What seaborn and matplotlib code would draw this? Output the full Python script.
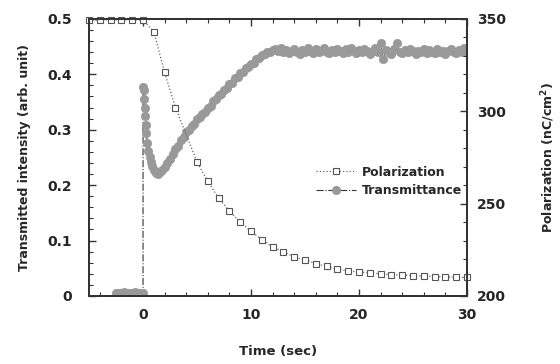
import numpy as np
import pandas as pd
import seaborn as sns
import matplotlib.pyplot as plt
from matplotlib.ticker import MultipleLocator

sns.set_style("white")
plt.rcParams['font.family'] = ['DejaVu Sans']
plt.rcParams['font.weight'] = 'bold'

# Polarization (nC/cm^2) vs time (s)
pol_time = [-5, -4, -3, -2, -1, 0, 1, 2, 3, 5, 6, 7, 8, 9, 10, 11, 12, 13, 14, 15,
            16, 17, 18, 19, 20, 21, 22, 23, 24, 25, 26, 27, 28, 29, 30]
pol_vals = [349.5, 349.5, 349.5, 349.5, 349.5, 349.5, 343, 321, 302, 272.5, 262, 253, 246,
            240, 235, 230.5, 226.5, 224, 221, 219.5, 217.5, 216, 214.5, 213.5, 213,
            212.5, 212, 211.5, 211.3, 211, 210.8, 210.5, 210.3, 210.1, 210]

# Transmitted intensity vs time (s)
tr_time_pre = [-2.5, -2.25, -2.0, -1.75, -1.5, -1.25, -1.0, -0.75, -0.5, -0.25, 0.0, 0.0]
tr_vals_pre = [0.005, 0.006, 0.005, 0.007, 0.006, 0.005, 0.006, 0.007, 0.006, 0.005, 0.006, 0.377]

tr_time_drop = [0.05, 0.1, 0.15, 0.2, 0.25, 0.3, 0.4, 0.5, 0.6, 0.7, 0.8, 1.0, 1.2, 1.4,
                1.6, 1.8, 2.0, 2.25, 2.5, 2.75]
tr_vals_drop = [0.372, 0.356, 0.340, 0.324, 0.308, 0.294, 0.276, 0.262, 0.251, 0.242,
                0.235, 0.227, 0.222, 0.220, 0.223, 0.227, 0.233, 0.240, 0.248, 0.256]

tr_time_rise = [3.0, 3.25, 3.5, 3.75, 4.0, 4.25, 4.5, 4.75, 5.0, 5.25, 5.5, 5.75, 6.0,
                6.25, 6.5, 6.75, 7.0, 7.25, 7.5, 7.75, 8.0, 8.25, 8.5, 8.75, 9.0, 9.25,
                9.5, 9.75, 10.0, 10.25, 10.5, 10.75, 11.0, 11.25, 11.5, 11.75, 12.0]
tr_vals_rise = [0.265, 0.271, 0.281, 0.286, 0.295, 0.299, 0.307, 0.311, 0.319, 0.323,
                0.329, 0.332, 0.340, 0.343, 0.351, 0.355, 0.362, 0.365, 0.372, 0.375,
                0.382, 0.385, 0.393, 0.396, 0.403, 0.405, 0.411, 0.413, 0.419, 0.421,
                0.427, 0.429, 0.435, 0.436, 0.441, 0.441, 0.444]

tr_time_flat = [12.25, 12.5, 12.75, 13.0, 13.25, 13.5, 13.75, 14.0, 14.25, 14.5, 14.75,
                15.0, 15.25, 15.5, 15.75, 16.0, 16.25, 16.5, 16.75, 17.0, 17.25, 17.5,
                17.75, 18.0, 18.25, 18.5, 18.75, 19.0, 19.25, 19.5, 19.75, 20.0, 20.25,
                20.5, 20.75, 21.0, 21.25, 21.5, 21.75, 22.0, 22.25, 22.5, 22.75, 23.0,
                23.25, 23.5, 23.75, 24.0, 24.25, 24.5, 24.75, 25.0, 25.25, 25.5, 25.75,
                26.0, 26.25, 26.5, 26.75, 27.0, 27.25, 27.5, 27.75, 28.0, 28.25, 28.5,
                28.75, 29.0, 29.25, 29.5, 29.75, 30.0]
tr_vals_flat = [0.446, 0.442, 0.447, 0.440, 0.444, 0.438, 0.443, 0.446, 0.440, 0.437,
                0.444, 0.441, 0.447, 0.442, 0.439, 0.445, 0.440, 0.443, 0.447, 0.441,
                0.438, 0.444, 0.440, 0.446, 0.442, 0.439, 0.445, 0.441, 0.447, 0.443,
                0.438, 0.444, 0.440, 0.446, 0.442, 0.437, 0.443, 0.447, 0.441, 0.456,
                0.428, 0.444, 0.440, 0.437, 0.445, 0.457, 0.441, 0.438, 0.444, 0.440,
                0.446, 0.442, 0.437, 0.443, 0.440, 0.445, 0.439, 0.444, 0.441, 0.438,
                0.445, 0.440, 0.443, 0.437, 0.442, 0.446, 0.440, 0.438, 0.444, 0.441,
                0.447, 0.440]

trans = pd.DataFrame({
    'time': tr_time_pre + tr_time_drop + tr_time_rise + tr_time_flat,
    'T': tr_vals_pre + tr_vals_drop + tr_vals_rise + tr_vals_flat,
})
pol = pd.DataFrame({'time': pol_time, 'P': pol_vals})

fig, ax = plt.subplots(figsize=(5.6, 3.64), dpi=100)
fig.subplots_adjust(left=0.159, right=0.834, top=0.948, bottom=0.187)
ax2 = ax.twinx()

sns.lineplot(data=trans, x='time', y='T', ax=ax, estimator=None, sort=False,
             color='#333333', linestyle='-.', linewidth=0.8, marker='o',
             markersize=6, markerfacecolor='#999999', markeredgecolor='#999999',
             markeredgewidth=0.5, label='Transmittance', legend=False)
sns.lineplot(data=pol, x='time', y='P', ax=ax2, estimator=None, sort=False,
             color='#666666', linestyle=':', linewidth=0.9, marker='s',
             markersize=4.8, markerfacecolor='white', markeredgecolor='#555555',
             markeredgewidth=0.8, label='Polarization', legend=False, clip_on=False)

ax.set_xlim(-5, 30)
ax.set_ylim(0, 0.5)
ax2.set_ylim(200, 350)

ax.xaxis.set_major_locator(MultipleLocator(10))
ax.xaxis.set_minor_locator(MultipleLocator(2))
ax.yaxis.set_major_locator(MultipleLocator(0.1))
ax.yaxis.set_minor_locator(MultipleLocator(0.02))
ax2.yaxis.set_major_locator(MultipleLocator(50))
ax2.yaxis.set_minor_locator(MultipleLocator(10))
ax.set_yticks([0, 0.1, 0.2, 0.3, 0.4, 0.5])
ax.set_yticklabels(['0', '0.1', '0.2', '0.3', '0.4', '0.5'])

ax.tick_params(axis='x', which='both', direction='in', top=True, bottom=True,
               labelsize=10, pad=9, color='#333333')
ax.tick_params(axis='y', which='both', direction='in', left=True, right=False,
               labelsize=10, pad=12, color='#333333')
ax2.tick_params(axis='y', which='both', direction='in', right=True,
                labelsize=10, pad=7, color='#333333')
for a in (ax, ax2):
    a.tick_params(which='major', length=5, width=1)
    a.tick_params(which='minor', length=3, width=0.8)
    for s in a.spines.values():
        s.set_linewidth(1.4)
        s.set_color('#333333')
for lab in ax.get_xticklabels() + ax.get_yticklabels() + ax2.get_yticklabels():
    lab.set_fontweight('bold')

ax.set_xlabel('Time (sec)', fontsize=9.5, fontweight='bold', labelpad=16)
ax.set_ylabel('Transmitted intensity (arb. unit)', fontsize=9, fontweight='bold', labelpad=12)
ax2.set_ylabel('Polarization (nC/cm$^{\\mathbf{2}}$)', fontsize=9, fontweight='bold', labelpad=24)

h1, l1 = ax.get_legend_handles_labels()
h2, l2 = ax2.get_legend_handles_labels()
leg = ax2.legend(h2 + h1, l2 + l1, loc='center left', bbox_to_anchor=(0.57, 0.413),
                 frameon=False, handlelength=3.2, fontsize=9, labelspacing=0.45,
                 handletextpad=0.5, prop={'weight': 'bold', 'size': 9})

fig.savefig('out.png', dpi=100)
